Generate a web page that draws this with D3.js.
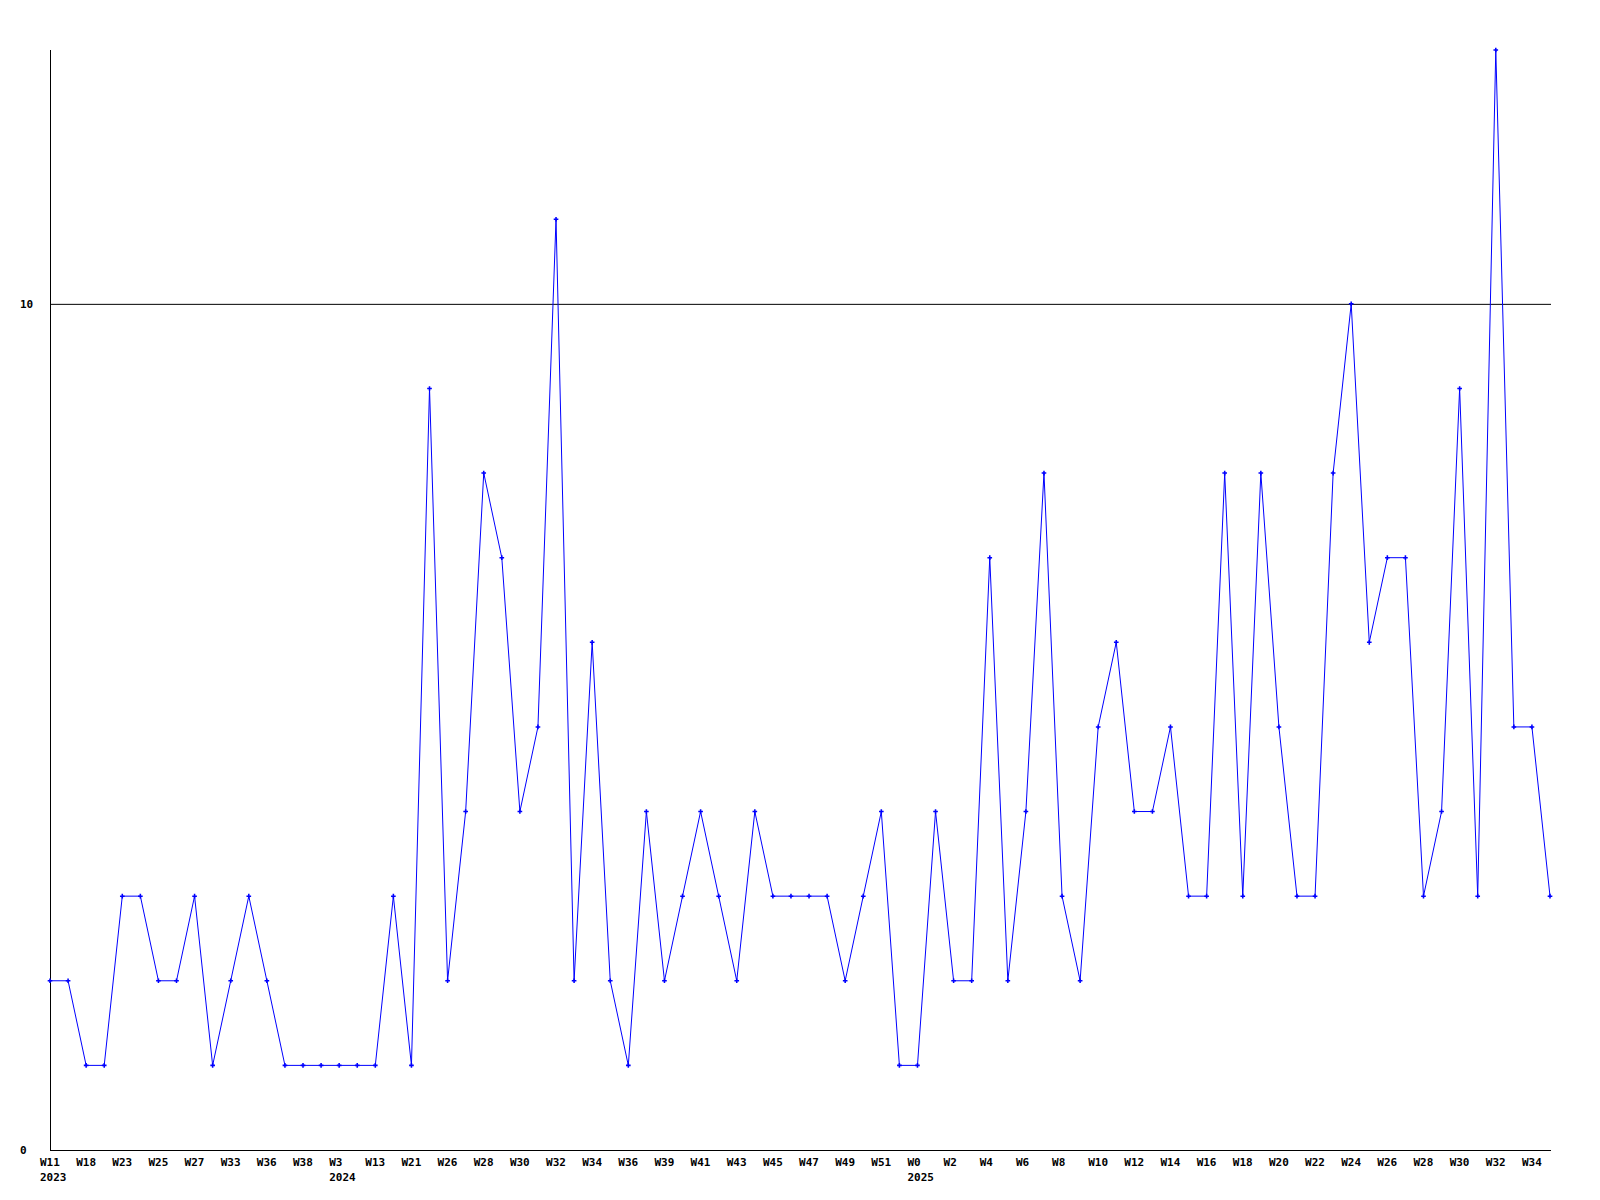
<!DOCTYPE html>
<html>
<head>
<meta charset="utf-8">
<script src="https://cdn.jsdelivr.net/npm/d3@7"></script>
<style>
html,body{margin:0;padding:0;background:#fff;}
text{font-family:"DejaVu Sans Mono",monospace;font-weight:bold;font-size:11px;fill:#000;}
</style>
</head>
<body>
<svg id="chart" width="1600" height="1200"></svg>
<script>
const values = [2,2,1,1,3,3,2,2,3,1,2,3,2,1,1,1,1,1,1,3,1,9,2,4,8,7,4,5,11,2,6,2,1,4,2,3,4,3,2,4,3,3,3,3,2,3,4,1,1,4,2,2,7,2,4,8,3,2,5,6,4,4,5,3,3,8,3,8,5,3,3,8,10,6,7,7,3,4,9,3,13,5,5,3];
const weekLabels = ["W11","W18","W23","W25","W27","W33","W36","W38","W3","W13","W21","W26","W28","W30","W32","W34","W36","W39","W41","W43","W45","W47","W49","W51","W0","W2","W4","W6","W8","W10","W12","W14","W16","W18","W20","W22","W24","W26","W28","W30","W32","W34"];
const yearLabels = {0:"2023", 8:"2024", 24:"2025"}; // keyed by label number
const yTicks = [0, 10];

const svg = d3.select("#chart");
const x = d3.scaleLinear().domain([0, values.length - 1]).range([50, 1550]);
const y = d3.scaleLinear().domain([0, 13]).range([1150, 50]);

// gridline at 10
svg.append("line").attr("x1", 50).attr("x2", 1551).attr("y1", y(10)+0.5).attr("y2", y(10)+0.5)
  .attr("stroke", "#000").attr("stroke-width", 1);
// axes
svg.append("line").attr("x1", 50.5).attr("x2", 50.5).attr("y1", y(13)).attr("y2", y(0)+1)
  .attr("stroke", "#000");
svg.append("line").attr("x1", 50).attr("x2", 1551).attr("y1", y(0)+0.5).attr("y2", y(0)+0.5)
  .attr("stroke", "#000");

// y tick labels
svg.selectAll("text.ytick").data(yTicks).enter().append("text").attr("class","ytick")
  .attr("x", 20).attr("y", d => y(d)).attr("dy", "0.35em").text(d => d);

// x labels
weekLabels.forEach((lab, i) => {
  const xi = x(i * 2) - 10;
  svg.append("text").attr("x", xi).attr("y", 1162).attr("dy","0.35em").text(lab);
  if (yearLabels[i]) svg.append("text").attr("x", xi).attr("y", 1177).attr("dy","0.35em").text(yearLabels[i]);
});

// line
const line = d3.line().x((d,i) => x(i)).y(d => y(d)).curve(d3.curveLinear);
svg.append("path").datum(values).attr("d", line).attr("fill","none").attr("stroke","#0000ff").attr("stroke-width",1);

// markers
svg.selectAll("path.pt").data(values).enter().append("path").attr("class","pt")
  .attr("d", d3.symbol(d3.symbolCross, 12))
  .attr("transform", (d,i) => `translate(${x(i)},${y(d)})`)
  .attr("fill", "#0000ff");
</script>
</body>
</html>
